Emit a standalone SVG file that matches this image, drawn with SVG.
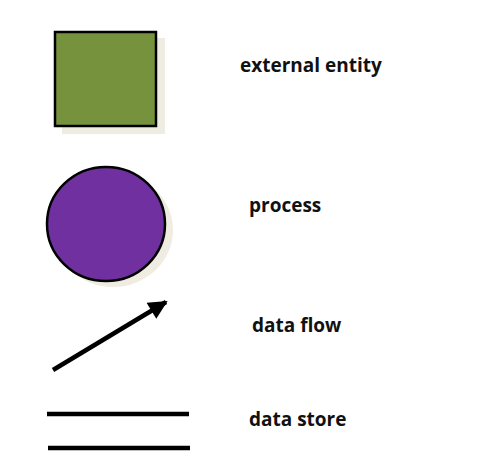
<svg xmlns="http://www.w3.org/2000/svg" width="499" height="469" viewBox="0 0 499 469">
<style>
.lbl{font-family:"Open Sans","Liberation Sans",sans-serif;font-weight:bold;font-size:19px;fill:#111}
.shadow{fill:#EFECE1}
.ln{stroke:#000;stroke-width:4.5;fill:none}
</style>
<defs>
<marker id="ah" viewBox="0 0 10 10" refX="9" refY="5" markerWidth="4.5" markerHeight="4.2" markerUnits="strokeWidth" orient="auto">
<path d="M0,0 L10,5 L0,10 z" fill="#000"/>
</marker>
</defs>
<rect width="499" height="469" fill="#fff"/>
<g id="external-entity">
<rect class="shadow" x="62" y="38" width="103" height="96"/>
<rect x="55" y="32" width="101" height="94" fill="#76923C" stroke="#000" stroke-width="2.5"/>
<text class="lbl" x="240" y="72">external entity</text>
</g>
<g id="process">
<ellipse class="shadow" cx="113" cy="230" rx="60" ry="57"/>
<ellipse cx="106" cy="224" rx="59" ry="57" fill="#7030A0" stroke="#000" stroke-width="2.5"/>
<text class="lbl" x="249" y="212">process</text>
</g>
<g id="connectors">
<line class="ln" x1="53" y1="370" x2="166" y2="302" marker-end="url(#ah)"/>
</g>
<g id="data-flow">
<text class="lbl" x="252" y="332">data flow</text>
</g>
<g id="data-store">
<line class="ln" x1="47" y1="414" x2="189" y2="414"/>
<line class="ln" x1="48" y1="448" x2="190" y2="448"/>
<text class="lbl" x="249" y="426">data store</text>
</g>
</svg>
